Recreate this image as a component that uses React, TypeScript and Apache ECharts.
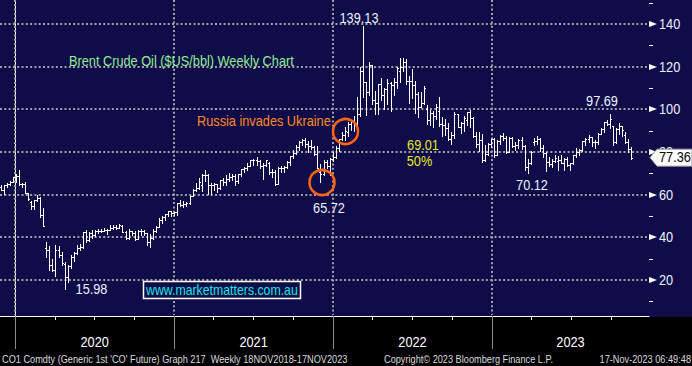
import React, { useEffect, useRef } from 'react';
import * as echarts from 'echarts';

// ---------------- data (weekly OHLC, Brent front month) ----------------
const firstWeek = '2019-11-29';

const bars2019 = [
  [63.5, 64.6, 62.2, 62.4], [62.4, 64.6, 60.1, 64.4], [64.4, 65.4, 63.4, 65.2], [65.2, 66.4, 64.6, 66.1],
  [66.1, 68.2, 65.8, 68.2],
];

const bars2020 = [
  [68.2, 69.5, 65.8, 68.6], [68.6, 71.75, 64.3, 65.0], [65.0, 65.7, 63.8, 64.9], [64.9, 66.0, 60.6, 60.7],
  [60.7, 61.0, 57.5, 58.2], [56.6, 56.9, 53.1, 54.5], [54.5, 57.5, 53.3, 57.3], [57.3, 59.7, 57.0, 58.5],
  [58.5, 59.0, 49.5, 50.5], [50.5, 53.9, 45.2, 45.3], [35.0, 37.6, 31.0, 33.9], [33.9, 35.8, 24.5, 27.0],
  [27.0, 30.0, 24.0, 24.9], [24.9, 36.3, 21.7, 34.1], [34.1, 36.0, 31.0, 31.5], [31.5, 33.0, 27.2, 28.1],
  [27.7, 28.6, 15.98, 21.4], [21.4, 27.0, 19.2, 26.4], [26.4, 31.6, 25.4, 31.0], [31.0, 32.9, 28.7, 32.5],
  [32.5, 36.4, 32.1, 35.1], [35.1, 37.1, 33.9, 35.3], [35.3, 42.4, 35.1, 42.3], [42.3, 43.4, 37.8, 38.7],
  [38.7, 42.6, 38.4, 42.2], [42.2, 43.3, 39.8, 41.0], [41.0, 43.3, 40.8, 42.8], [42.8, 43.9, 41.9, 43.2],
  [43.2, 44.0, 42.5, 43.1], [43.1, 44.6, 42.8, 43.3], [43.3, 44.0, 41.5, 43.3], [43.3, 45.9, 43.3, 44.4],
  [44.4, 45.6, 44.0, 44.8], [44.8, 45.9, 44.0, 44.4], [44.4, 46.2, 44.2, 45.8], [45.4, 46.0, 42.3, 42.7],
  [42.7, 42.8, 39.4, 39.8], [39.8, 43.8, 39.4, 43.2], [43.2, 43.2, 40.9, 41.9], [42.0, 42.8, 38.8, 39.3],
  [39.3, 43.4, 39.1, 42.9], [42.9, 43.8, 41.3, 42.9], [42.9, 43.3, 40.9, 41.8], [41.8, 41.9, 36.6, 37.9],
  [37.9, 41.6, 35.7, 39.5], [39.5, 44.0, 39.3, 42.8], [42.8, 45.2, 42.3, 45.0], [45.0, 49.0, 44.8, 48.2],
  [48.2, 49.9, 46.8, 49.3], [49.3, 51.1, 48.3, 51.0], [51.0, 52.5, 49.9, 52.3], [52.3, 52.5, 49.8, 51.3],
];

const bars2021 = [
  [51.3, 51.9, 50.6, 51.8], [51.8, 56.1, 50.4, 56.0], [56.0, 57.4, 54.7, 55.1], [55.1, 56.8, 54.4, 55.4],
  [55.4, 56.4, 54.5, 55.9], [55.9, 59.5, 55.5, 59.3], [59.3, 62.8, 59.3, 62.4], [62.4, 65.5, 61.8, 62.9],
  [62.9, 67.7, 62.5, 66.1], [64.4, 69.8, 61.8, 69.4], [69.4, 71.4, 66.3, 69.2], [69.2, 69.7, 60.5, 64.5],
  [64.5, 65.4, 60.3, 64.6], [64.6, 65.4, 62.3, 64.9], [64.9, 64.9, 61.3, 63.0], [63.0, 67.1, 62.5, 66.8],
  [66.8, 67.7, 64.5, 66.1], [66.1, 69.0, 64.6, 67.3], [67.3, 70.0, 66.5, 68.3], [68.3, 69.8, 66.7, 68.7],
  [68.7, 69.8, 64.6, 66.4], [66.4, 69.9, 65.7, 69.6], [69.6, 72.1, 68.9, 71.9], [71.9, 72.9, 70.6, 72.7],
  [72.7, 75.0, 71.7, 73.5], [73.5, 76.3, 73.4, 76.2], [76.2, 76.9, 73.8, 76.2], [76.2, 77.8, 73.9, 75.6],
  [75.6, 76.4, 72.7, 73.6], [73.6, 74.8, 67.4, 74.1], [74.1, 76.4, 73.4, 76.3], [75.0, 75.2, 69.9, 70.7],
  [70.7, 71.9, 68.4, 70.6], [70.6, 71.4, 64.6, 65.2], [65.2, 72.9, 65.2, 72.7], [72.7, 73.5, 70.6, 72.6],
  [72.6, 73.4, 70.8, 72.9], [72.9, 76.0, 72.6, 75.3], [75.3, 78.2, 74.0, 78.1], [78.1, 80.8, 77.1, 79.3],
  [79.3, 83.5, 79.0, 82.4], [82.4, 85.1, 80.8, 84.9], [84.9, 86.1, 83.4, 85.5], [85.5, 86.7, 82.3, 83.7],
  [83.7, 85.0, 80.0, 82.7], [82.7, 85.5, 81.2, 82.2], [82.2, 82.6, 78.4, 78.9], [78.9, 82.8, 72.6, 72.7],
  [70.6, 74.2, 65.72, 69.9], [69.9, 76.1, 69.3, 75.2], [75.2, 76.2, 72.3, 73.5], [73.5, 77.0, 69.3, 76.9],
  [76.9, 80.0, 76.0, 77.8],
];

const bars2022 = [
  [77.8, 83.0, 77.1, 81.8], [81.8, 86.3, 80.7, 86.1], [86.1, 89.5, 85.6, 87.9], [87.9, 91.7, 85.7, 90.0],
  [89.3, 94.0, 87.6, 93.3], [93.3, 95.0, 90.1, 94.4], [94.4, 96.8, 90.0, 93.5], [93.5, 105.8, 91.1, 97.9],
  [98.0, 119.8, 97.0, 118.1], [118.1, 139.13, 105.6, 112.7], [112.7, 113.0, 97.4, 107.9], [107.9, 122.0, 106.8, 120.7],
  [120.7, 121.0, 102.4, 104.4], [104.4, 108.8, 97.6, 102.8], [102.8, 112.0, 98.0, 111.7], [111.7, 114.8, 104.3, 106.7],
  [106.7, 110.0, 100.0, 109.3], [109.3, 114.0, 102.5, 112.4], [112.4, 112.9, 99.4, 111.6], [111.6, 114.8, 106.6, 112.6],
  [112.6, 119.9, 110.2, 119.4], [117.9, 124.0, 113.0, 119.7], [119.7, 124.0, 118.0, 122.0], [122.0, 123.6, 111.9, 113.1],
  [113.1, 115.8, 103.1, 113.1], [113.1, 118.8, 105.4, 111.6], [111.6, 113.4, 98.5, 107.0], [107.0, 108.3, 96.3, 101.2],
  [101.2, 108.2, 101.0, 103.2], [103.2, 110.9, 102.6, 110.0], [100.0, 101.9, 93.2, 94.9], [94.9, 99.8, 92.8, 98.2],
  [98.2, 99.0, 91.5, 96.7], [96.7, 102.4, 95.5, 101.0], [99.3, 105.6, 92.4, 93.0], [93.0, 96.5, 87.6, 92.8],
  [92.8, 95.3, 88.2, 91.4], [91.4, 93.7, 85.8, 86.2], [86.2, 89.4, 83.7, 88.0], [88.0, 98.8, 86.6, 97.9],
  [97.9, 98.0, 91.6, 91.6], [91.6, 94.0, 89.0, 93.5], [93.5, 96.8, 90.0, 95.8], [94.8, 98.8, 92.7, 98.6],
  [98.6, 99.6, 91.7, 96.0], [96.0, 96.6, 87.1, 87.6], [87.6, 89.5, 82.3, 83.6], [83.6, 89.4, 80.6, 85.6],
  [85.6, 88.5, 75.1, 76.1], [76.1, 83.3, 76.0, 79.0], [79.0, 84.2, 78.7, 83.9], [83.9, 86.3, 82.4, 85.9],
];

const bars2023 = [
  [85.9, 86.4, 77.6, 78.6], [78.6, 85.4, 78.4, 85.3], [85.3, 88.0, 83.7, 87.6], [87.6, 89.1, 85.4, 86.7],
  [86.7, 87.4, 79.6, 79.9], [79.9, 86.9, 79.8, 86.4], [86.4, 86.9, 82.5, 83.0], [83.0, 84.7, 80.8, 83.2],
  [83.2, 86.0, 82.0, 85.8], [85.8, 86.8, 81.4, 82.8], [82.8, 83.2, 71.4, 73.0], [73.0, 76.8, 70.12, 75.0],
  [75.0, 80.3, 74.6, 79.8], [84.6, 86.4, 83.3, 85.1], [85.1, 87.5, 83.6, 86.3], [86.3, 86.4, 80.4, 81.7],
  [81.7, 83.1, 77.7, 79.5], [79.5, 80.0, 71.3, 75.3], [75.3, 77.8, 73.6, 74.2], [74.2, 76.5, 73.1, 75.6],
  [75.6, 78.4, 75.1, 77.0], [76.0, 77.9, 71.4, 76.1], [76.1, 78.7, 74.7, 74.8], [74.8, 77.0, 71.6, 76.6],
  [76.6, 77.6, 73.3, 73.9], [73.9, 75.0, 71.6, 74.9], [74.9, 78.6, 74.6, 78.5], [78.5, 81.8, 77.8, 79.9],
  [79.9, 81.3, 78.5, 81.1], [81.1, 85.0, 80.6, 85.0], [85.0, 86.7, 83.2, 86.2], [86.2, 88.1, 84.9, 86.8],
  [86.8, 87.2, 82.9, 84.8], [84.8, 85.4, 81.8, 84.5], [84.5, 88.9, 83.8, 88.6], [88.6, 91.2, 88.3, 90.7],
  [90.7, 94.2, 89.5, 93.9], [93.9, 95.1, 92.6, 93.3], [93.3, 97.69, 91.1, 95.3], [92.2, 92.4, 83.4, 84.6],
  [84.6, 91.2, 84.4, 90.9], [90.9, 93.8, 88.4, 92.2], [92.2, 92.4, 87.6, 90.5], [88.0, 89.4, 84.0, 84.9],
  [84.9, 85.9, 79.8, 81.4], [81.4, 82.4, 76.6, 77.36],
];

const yMajorTicks = [20, 40, 60, 80, 100, 120, 140];
const yMinorTicks = [10, 30, 50, 70, 90, 110, 130, 150];
const yearStarts = ['2020-01-01', '2021-01-01', '2022-01-01', '2023-01-01'];
const yearLabels = ['2020', '2021', '2022', '2023'];
const quarterStarts = [
  '2020-04-01', '2020-07-01', '2020-10-01', '2021-04-01', '2021-07-01', '2021-10-01',
  '2022-04-01', '2022-07-01', '2022-10-01', '2023-04-01', '2023-07-01', '2023-10-01',
];
const lastPrice = 77.36;

const footerLeft = "CO1 Comdty (Generic 1st 'CO' Future) Graph 217  Weekly 18NOV2018-17NOV2023";
const footerMid = 'Copyright\u00A9 2023 Bloomberg Finance L.P.';
const footerRight = '17-Nov-2023 06:49:48';

// ---------------- styling ----------------
const NAVY = '#0f0c49';
const GRID = '#a2a2a2';
const FONT = '"Liberation Sans", Arial, sans-serif';
const LABEL = '#eef2ff';
const GREEN = '#90ee90';
const ORANGE_TXT = '#ff8a1c';
const ORANGE_RING = '#ff6412';
const YELLOW = '#e8e82a';
const CYAN = '#1ee6e6';
const SX = 0.91;

const X_MIN = -34.5;
const X_MAX = 1457;
const Y_MIN = 3.125;
const Y_MAX = 151.25;

const DAY0 = Date.UTC(2020, 0, 1);
const dayOf = (iso: string) => (Date.parse(iso) - DAY0) / 86400000;

function txt(text: string, x: number, y: number, fill: string, align = 'center', size = 14, sx = SX) {
  return {
    type: 'text',
    x,
    y,
    scaleX: sx,
    style: {
      text,
      fill,
      font: `${size}px ${FONT}`,
      align,
      textAlign: align,
      verticalAlign: 'middle',
      textVerticalAlign: 'middle',
    },
  };
}

export default function App() {
  const ref = useRef<HTMLDivElement>(null);

  useEffect(() => {
    if (!ref.current) return;
    const chart = echarts.init(ref.current, null, { renderer: 'svg' });

    const allBars = [...bars2019, ...bars2020, ...bars2021, ...bars2022, ...bars2023];
    const d0 = dayOf(firstWeek);
    const barData = allBars.map((b, i) => [d0 + 7 * i, b[0], b[1], b[2], b[3]]);
    const lastDay = d0 + 7 * (allBars.length - 1);

    const option: any = {
      animation: false,
      backgroundColor: NAVY,
      grid: { left: 0, right: 43, top: 0, bottom: 50, containLabel: false },
      xAxis: {
        type: 'value',
        min: X_MIN,
        max: X_MAX,
        axisLine: { show: true, onZero: false, lineStyle: { color: '#ffffff', width: 1 } },
        axisTick: { show: false },
        axisLabel: { show: false },
        splitLine: { show: false },
      },
      yAxis: {
        type: 'value',
        position: 'right',
        min: Y_MIN,
        max: Y_MAX,
        axisLine: { show: true, lineStyle: { color: '#ffffff', width: 1 } },
        axisTick: { show: false },
        axisLabel: { show: false },
        splitLine: { show: false },
      },
      graphic: [
        { type: 'rect', z: 0, silent: true, shape: { x: 0, y: 317, width: 692, height: 49 }, style: { fill: '#000000' } },
        { ...txt(footerLeft, 2, 359, '#dcdcdc', 'left', 10, 0.92), z: 10 },
        { ...txt(footerMid, 384, 359, '#dcdcdc', 'left', 10, 0.92), z: 10 },
        { ...txt(footerRight, 691, 359, '#dcdcdc', 'right', 10, 0.92), z: 10 },
        { ...txt('Brent Crude Oil ($US/bbl) Weekly Chart', 69, 61, GREEN, 'left'), z: 10 },
        { ...txt('Russia invades Ukraine', 197, 121, ORANGE_TXT, 'left'), z: 10 },
        { ...txt('139.13', 359, 18, LABEL), z: 10 },
        { ...txt('65.72', 329, 208, LABEL), z: 10 },
        { ...txt('15.98', 91.5, 289.5, LABEL), z: 10 },
        { ...txt('70.12', 532, 185, LABEL), z: 10 },
        { ...txt('97.69', 602, 101.5, LABEL), z: 10 },
        { ...txt('69.01', 423, 145.5, YELLOW), z: 10 },
        { ...txt('50%', 419.5, 161, YELLOW), z: 10 },
        {
          type: 'circle', z: 10, silent: true,
          shape: { cx: 345.5, cy: 131.5, r: 12.5 },
          style: { fill: 'transparent', stroke: ORANGE_RING, lineWidth: 2.5 },
        },
        {
          type: 'circle', z: 10, silent: true,
          shape: { cx: 322, cy: 182.5, r: 12.5 },
          style: { fill: 'transparent', stroke: ORANGE_RING, lineWidth: 2.5 },
        },
        {
          type: 'rect', z: 10, silent: true,
          shape: { x: 143.5, y: 281.5, width: 157, height: 17 },
          style: { fill: NAVY, stroke: '#ffffff', lineWidth: 1.5 },
        },
        { ...txt('www.marketmatters.com.au', 146, 290.5, CYAN, 'left', 14, 0.88), z: 11 },
      ],
      series: [
        // horizontal dotted grid lines, right-axis markers and labels
        {
          type: 'custom',
          z: 1,
          silent: true,
          clip: false,
          data: yMajorTicks.map((v) => [0, v]),
          encode: { x: 0, y: 1 },
          renderItem: (params: any, api: any) => {
            const cs = params.coordSys;
            const v = api.value(1);
            const y = Math.round(api.coord([0, v])[1]);
            const right = cs.x + cs.width;
            return {
              type: 'group',
              children: [
                {
                  type: 'line',
                  shape: { x1: cs.x, y1: y, x2: right - 1, y2: y },
                  style: { stroke: GRID, lineWidth: 2, lineDash: [2, 2.3] },
                },
                {
                  type: 'polygon',
                  shape: { points: [[right, y - 3], [right, y + 3], [right + 8, y]] },
                  style: { fill: '#ffffff' },
                },
                txt(String(v), right + 10, y, LABEL, 'left'),
              ],
            };
          },
        },
        // minor ticks on the right axis
        {
          type: 'custom',
          z: 1,
          silent: true,
          clip: false,
          data: yMinorTicks.map((v) => [0, v]),
          encode: { x: 0, y: 1 },
          renderItem: (params: any, api: any) => {
            const cs = params.coordSys;
            const y = Math.round(api.coord([0, api.value(1)])[1]) + 0.5;
            const right = cs.x + cs.width;
            return {
              type: 'line',
              shape: { x1: right, y1: y, x2: right + 4, y2: y },
              style: { stroke: '#ffffff', lineWidth: 1 },
            };
          },
        },
        // year grid lines, separators and labels
        {
          type: 'custom',
          z: 1,
          silent: true,
          clip: false,
          data: yearStarts.map((s) => [dayOf(s), 50]),
          encode: { x: 0, y: 1 },
          renderItem: (params: any, api: any) => {
            const cs = params.coordSys;
            const i = params.dataIndex;
            const x = Math.round(api.coord([api.value(0), 50])[0]);
            const nextDay = i + 1 < yearStarts.length ? dayOf(yearStarts[i + 1]) : X_MAX;
            const xNext = api.coord([nextDay, 50])[0];
            const bottom = cs.y + cs.height;
            return {
              type: 'group',
              children: [
                {
                  type: 'line',
                  shape: { x1: x, y1: cs.y, x2: x, y2: bottom - 1 },
                  style: { stroke: GRID, lineWidth: 2, lineDash: [2, 2.3] },
                },
                {
                  type: 'line',
                  shape: { x1: x + 0.5, y1: bottom, x2: x + 0.5, y2: bottom + 33 },
                  style: { stroke: '#8c8c8c', lineWidth: 1 },
                },
                txt(yearLabels[i], (x + xNext) / 2, bottom + 26, '#ffffff'),
              ],
            };
          },
        },
        // quarterly ticks on the time axis
        {
          type: 'custom',
          z: 1,
          silent: true,
          clip: false,
          data: quarterStarts.map((s) => [dayOf(s), 50]),
          encode: { x: 0, y: 1 },
          renderItem: (params: any, api: any) => {
            const cs = params.coordSys;
            const x = Math.round(api.coord([api.value(0), 50])[0]) + 0.5;
            const bottom = cs.y + cs.height;
            return {
              type: 'line',
              shape: { x1: x, y1: bottom, x2: x, y2: bottom + 4 },
              style: { stroke: '#ffffff', lineWidth: 1 },
            };
          },
        },
        // OHLC bars
        {
          type: 'custom',
          z: 3,
          silent: true,
          clip: true,
          data: barData,
          encode: { x: 0, y: [1, 2, 3, 4] },
          renderItem: (params: any, api: any) => {
            const x = api.value(0);
            const pO = api.coord([x, api.value(1)]);
            const pH = api.coord([x, api.value(2)]);
            const pL = api.coord([x, api.value(3)]);
            const pC = api.coord([x, api.value(4)]);
            const n = Math.round(pH[0]);
            const px = n + 0.5;
            const yo = Math.round(pO[1]) + 0.5;
            const yc = Math.round(pC[1]) + 0.5;
            const st = { stroke: '#ffffff', lineWidth: 1 };
            return {
              type: 'group',
              children: [
                { type: 'line', shape: { x1: px, y1: Math.round(pH[1]), x2: px, y2: Math.round(pL[1]) + 1 }, style: st },
                { type: 'line', shape: { x1: n - 1, y1: yo, x2: n + 1, y2: yo }, style: st },
                { type: 'line', shape: { x1: n, y1: yc, x2: n + 2, y2: yc }, style: st },
              ],
            };
          },
        },
        // last price tag
        {
          type: 'custom',
          z: 4,
          silent: true,
          clip: false,
          data: [[lastDay, lastPrice]],
          encode: { x: 0, y: 1 },
          renderItem: (params: any, api: any) => {
            const cs = params.coordSys;
            const y = api.coord([api.value(0), api.value(1)])[1];
            const right = cs.x + cs.width;
            return {
              type: 'group',
              children: [
                {
                  type: 'polygon',
                  shape: {
                    points: [
                      [right + 1, y], [right + 8, y - 8.5], [692, y - 8.5], [692, y + 8.5], [right + 8, y + 8.5],
                    ],
                  },
                  style: { fill: '#ffffff', stroke: '#9a9a9a', lineWidth: 1 },
                },
                txt(lastPrice.toFixed(2), right + 10, y, '#000000', 'left'),
              ],
            };
          },
        },
      ],
    };

    chart.setOption(option);
    return () => chart.dispose();
  }, []);

  return <div ref={ref} style={{ position: 'fixed', left: 0, top: 0, width: 692, height: 366 }} />;
}
